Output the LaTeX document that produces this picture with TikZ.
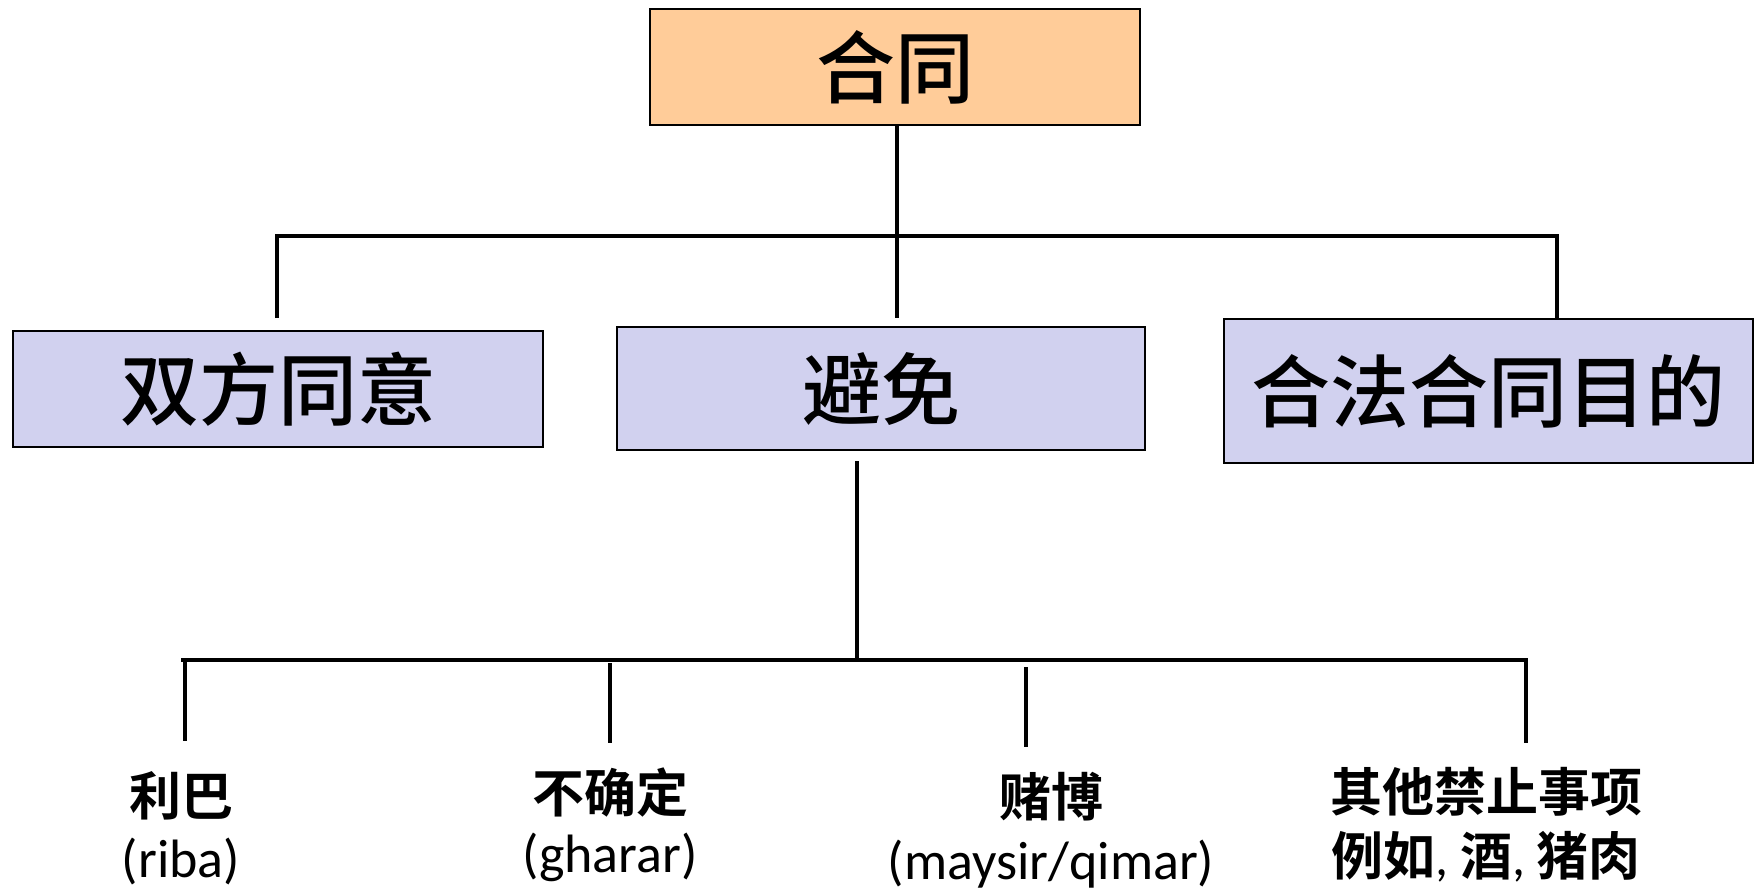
\documentclass[tikz,border=0pt]{standalone}
\usepackage{fontspec}
\newfontfamily\cjkm{Noto Sans CJK SC Medium}
\newfontfamily\cjkb{Noto Sans CJK SC Bold}
\newfontfamily\latin{Carlito}
\definecolor{peach}{HTML}{FFCC99}
\definecolor{lav}{HTML}{D1D1EF}
\tikzset{
  box/.style={draw=black, line width=1pt, inner sep=0pt, anchor=center},
  big/.style={font=\cjkm\fontsize{39.5}{44}\selectfont},
  conn/.style={line width=1.6pt, black},
  leaf/.style={align=center, inner sep=0pt, anchor=center}
}
\begin{document}
\begin{tikzpicture}[x=0.5pt,y=-0.5pt]
\useasboundingbox (0,0) rectangle (1754,891);
\node[box, fill=peach, minimum width=245pt, minimum height=58pt, big] (top) at (895,67) {\raisebox{1pt}{合同}};
\node[box, fill=lav, minimum width=265pt, minimum height=58pt, big] (b1) at (278,389) {双方同意};
\node[box, fill=lav, minimum width=264pt, minimum height=61.5pt, big] (b2) at (881,388.5) {\raisebox{-1pt}{避免}};
\node[box, fill=lav, minimum width=264.5pt, minimum height=72pt, big] (b3) at (1488.5,391) {\raisebox{-5pt}{合法合同目的}};

\coordinate (hL) at (277,236);
\coordinate (hM) at (897,236);
\coordinate (hR) at (1557,236);
\coordinate (e1) at (277,318);
\coordinate (e2) at (897,318);
\coordinate (e3) at (1557,318);
\draw[conn] (top.south -| hM) -- (e2);
\draw[conn] (e1) -- (hL) -- (hR) -- (e3);

\coordinate (aT) at (857,461);
\coordinate (aB) at (857,660);
\coordinate (gL) at (181,660);
\coordinate (gR) at (1526,660);
\coordinate (g1) at (185,660);
\coordinate (g2) at (610,663);
\coordinate (g3) at (1026,667);
\coordinate (d1) at (185,741);
\coordinate (d2) at (610,743);
\coordinate (d3) at (1026,747);
\coordinate (d4) at (1526,743);
\draw[conn] (aT) -- (aB);
\draw[conn] (gL) -- (gR) -- (d4);
\draw[conn] (g1) -- (d1);
\draw[conn] (g2) -- (d2);
\draw[conn] (g3) -- (d3);

\node[leaf] (l1) at (181,796) {\cjkb\fontsize{26}{30}\selectfont 利巴};
\node[leaf] (l1b) at (181,861) {\latin\fontsize{27}{32}\selectfont (riba)};
\node[leaf] (l2) at (610,792) {\cjkb\fontsize{26}{30}\selectfont 不确定};
\node[leaf] (l2b) at (610,857) {\latin\fontsize{27}{32}\selectfont (gharar)};
\node[leaf] (l3) at (1051,797) {\cjkb\fontsize{26}{30}\selectfont 赌博};
\node[leaf] (l3b) at (1051,864) {\latin\fontsize{27}{32}\selectfont (maysir/qimar)};
\node[leaf] (l4) at (1486,792) {\cjkb\fontsize{26}{30}\selectfont 其他禁止事项};
\node[leaf] (l4b) at (1486,857) {\cjkb\fontsize{26}{30}\selectfont 例如{\latin,} 酒{\latin,} 猪肉};
\end{tikzpicture}
\end{document}
